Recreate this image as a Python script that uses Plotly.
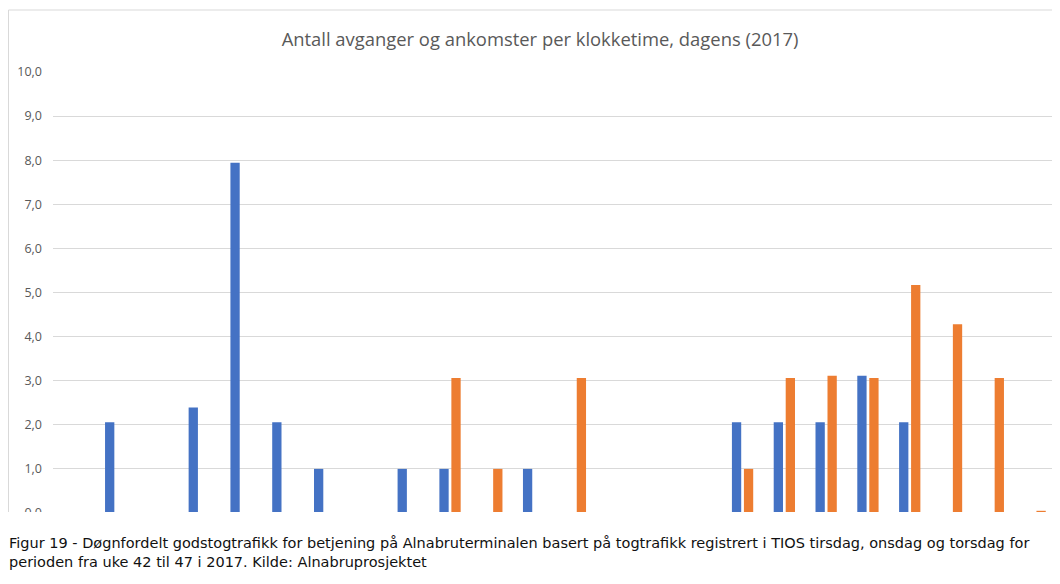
import plotly.graph_objects as go

hours = list(range(24))
avganger = [0, 2.06, 0, 2.39, 7.94, 2.06, 1.0, 0, 1.0, 1.0, 0, 1.0,
            0, 0, 0, 0, 2.06, 2.06, 2.06, 3.11, 2.06, 0, 0, 0]
ankomster = [0, 0, 0, 0, 0, 0, 0, 0, 0, 3.06, 1.0, 0,
             3.06, 0, 0, 0, 1.0, 3.06, 3.11, 3.06, 5.17, 4.28, 3.06, 0.05]
y_ticks = [0, 1, 2, 3, 4, 5, 6, 7, 8, 9, 10]
y_labels = ["0,0", "1,0", "2,0", "3,0", "4,0", "5,0", "6,0", "7,0", "8,0", "9,0", "10,0"]

title_text = "Antall avganger og ankomster per klokketime, dagens (2017)"
caption1 = ("Figur 19 - Døgnfordelt godstogtrafikk for betjening på Alnabruterminalen basert på "
            "togtrafikk registrert i TIOS tirsdag, onsdag og torsdag for")
caption2 = "perioden fra uke 42 til 47 i 2017. Kilde: Alnabruprosjektet"

# the page shows the figure with an 8 px body margin, so the figure is
# laid out in page coordinates shifted by OFF
OFF = 8
W, H = 1060 - OFF, 584 - OFF
L, R, T, B = 53 - OFF, 1060 - 1056, 72 - OFF, 584 - 513
pw = W - L - R
ph = H - T - B


def px_x(x):
    return (x - OFF - L) / pw


def px_y(y):
    return (H - B - (y - OFF)) / ph


fig = go.Figure()
fig.add_trace(go.Bar(x=hours, y=avganger, name="Avganger",
                     marker=dict(color="#4472C4", line=dict(width=0))))
fig.add_trace(go.Bar(x=hours, y=ankomster, name="Ankomster",
                     marker=dict(color="#ED7D31", line=dict(width=0))))

fig.update_layout(
    width=W, height=H,
    margin=dict(l=L, r=R, t=T, b=B, pad=0),
    paper_bgcolor="white", plot_bgcolor="white",
    barmode="group", bargap=0.426, bargroupgap=0.225,
    showlegend=False,
    font=dict(family="Open Sans", color="#595959"),
    title=dict(text=title_text, x=(540 - OFF) / W, xref="container", xanchor="center",
               y=1 - (40 - OFF) / H, yref="container", yanchor="middle",
               font=dict(family="Open Sans", size=18.4, color="#595959")),
)
fig.update_xaxes(range=[-0.5, 23.5], showticklabels=False, showgrid=False,
                 zeroline=False, showline=False, ticks="")
fig.update_yaxes(range=[0, 10], tickvals=y_ticks, ticktext=y_labels,
                 showgrid=True, gridcolor="#D9D9D9", gridwidth=1,
                 zeroline=False, showline=False, ticks="",
                 ticklabelstandoff=10,
                 tickfont=dict(family="Open Sans", size=12.5, color="#595959"))

# chart border
fig.add_shape(type="rect", xref="paper", yref="paper",
              x0=px_x(8.5), x1=px_x(1090), y0=px_y(530), y1=px_y(10),
              line=dict(color="#D9D9D9", width=1), fillcolor="rgba(0,0,0,0)",
              layer="below")
# crop cover below the chart
fig.add_shape(type="rect", xref="paper", yref="paper",
              x0=px_x(-20), x1=px_x(1100), y0=px_y(600), y1=px_y(512),
              line=dict(width=0), fillcolor="white", layer="above")

fig.add_annotation(text=caption1, xref="paper", yref="paper",
                   x=px_x(7), y=px_y(543), xanchor="left", yanchor="middle",
                   showarrow=False,
                   font=dict(family="DejaVu Sans", size=14.5, color="#111111"))
fig.add_annotation(text=caption2, xref="paper", yref="paper",
                   x=px_x(7), y=px_y(562), xanchor="left", yanchor="middle",
                   showarrow=False,
                   font=dict(family="DejaVu Sans", size=14.5, color="#111111"))

fig.write_html("out.html")
